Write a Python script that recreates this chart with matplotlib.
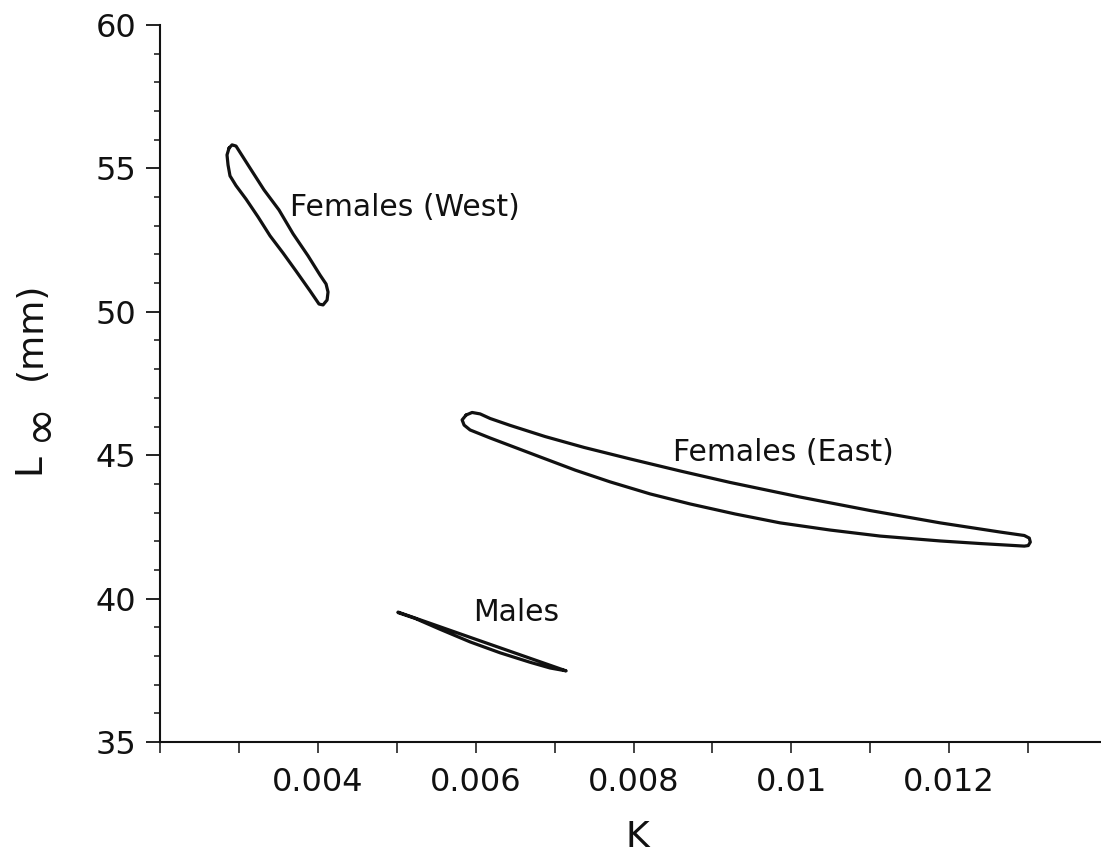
import matplotlib
matplotlib.use("Agg")
import matplotlib.pyplot as plt
from matplotlib.ticker import FixedLocator, NullFormatter

# ---- data (outlines of the confidence regions, K vs L-infinity) ----
west_k = [0.002875, 0.002913, 0.002963, 0.003141, 0.003318, 0.003508, 0.003686,
          0.003876, 0.004028, 0.004104, 0.004129, 0.004117, 0.004066, 0.004015,
          0.003901, 0.003724, 0.003559, 0.003394, 0.003242, 0.003090, 0.002963,
          0.002887, 0.002862, 0.002849, 0.002875]
west_l = [55.71, 55.82, 55.78, 55.01, 54.25, 53.55, 52.72,
          51.95, 51.28, 50.97, 50.69, 50.41, 50.24, 50.27,
          50.73, 51.42, 52.05, 52.65, 53.31, 53.93, 54.40,
          54.74, 55.12, 55.47, 55.71]

east_k = [0.005878, 0.005954, 0.006056, 0.006183, 0.006436, 0.006880, 0.007374,
          0.007957, 0.008591, 0.009224, 0.010112, 0.010999, 0.011886, 0.012646,
          0.012951, 0.013014, 0.013027, 0.013001, 0.012951,
          0.012393, 0.011886, 0.011125, 0.010492, 0.009858, 0.009288, 0.008717,
          0.008210, 0.007703, 0.007260, 0.006816, 0.006183, 0.005929,
          0.005853, 0.005828, 0.005878]
east_l = [46.40, 46.49, 46.44, 46.28, 46.04, 45.65, 45.27,
          44.87, 44.45, 44.05, 43.54, 43.07, 42.64, 42.32,
          42.20, 42.11, 41.97, 41.85, 41.83,
          41.92, 42.01, 42.18, 42.39, 42.64, 42.95, 43.30,
          43.65, 44.07, 44.48, 44.94, 45.60, 45.88,
          46.05, 46.23, 46.40]

male_k = [0.005017, 0.005929, 0.007146,
          0.006943, 0.006689, 0.006309, 0.005929, 0.005549, 0.005232, 0.005017]
male_l = [39.53, 38.65, 37.48,
          37.58, 37.78, 38.11, 38.49, 38.93, 39.31, 39.51]

labels = ["Females (West)", "Females (East)", "Males"]
label_k = [0.003648, 0.008502, 0.005967]
label_l = [53.65, 45.11, 39.50]

xmajor = [0.004, 0.006, 0.008, 0.010, 0.012]
xmajor_labels = ["0.004", "0.006", "0.008", "0.01", "0.012"]
xminor = [0.002, 0.003, 0.005, 0.007, 0.009, 0.011, 0.013]
ymajor = [35, 40, 45, 50, 55, 60]
yminor = [36, 37, 38, 39, 41, 42, 43, 44, 46, 47, 48, 49, 51, 52, 53, 54, 56, 57, 58, 59]

plt.rcParams['font.family'] = ['DejaVu Sans']

fig = plt.figure(figsize=(11.01, 8.57), dpi=100)
ax = fig.add_axes([160 / 1101, 1 - 742 / 857, (1100 - 160) / 1101, (742 - 25) / 857])

lw = 2.3
for ks, ls in [(west_k, west_l), (east_k, east_l), (male_k, male_l)]:
    ax.plot(ks, ls, color='#111111', lw=lw, solid_joinstyle='round', solid_capstyle='round')

for t, k, l in zip(labels, label_k, label_l):
    ax.text(k, l, t, fontsize=21.5, ha='left', va='center', color='#111111')

ax.set_xlim(0.002, 0.01391)
ax.set_ylim(35, 60)

for s in ['top', 'right']:
    ax.spines[s].set_visible(False)
for s in ['left', 'bottom']:
    ax.spines[s].set_linewidth(1.5)
    ax.spines[s].set_color('#111111')

ax.xaxis.set_major_locator(FixedLocator(xmajor))
ax.set_xticklabels(xmajor_labels)
ax.xaxis.set_minor_locator(FixedLocator(xminor))
ax.yaxis.set_major_locator(FixedLocator(ymajor))
ax.yaxis.set_minor_locator(FixedLocator(yminor))
ax.yaxis.set_minor_formatter(NullFormatter())
ax.xaxis.set_minor_formatter(NullFormatter())

ax.tick_params(axis='x', which='both', direction='out', length=8, width=1.1,
               labelsize=23, pad=10, colors='#111111')
ax.tick_params(axis='y', which='major', direction='out', length=10, width=1.3,
               labelsize=23, pad=7, colors='#111111')
ax.tick_params(axis='y', which='minor', direction='out', length=4.5, width=1.1, colors='#111111')

# y-axis label: L with a large subscript infinity, then (mm)
fig.text(29 / 1101, 1 - 464 / 857, "L", rotation=90, fontsize=27, ha='center', va='center',
         color='#111111')
fig.text(39 / 1101, 1 - 421 / 857, "\u221e", rotation=90, fontsize=34, ha='center', va='center',
         color='#111111')
fig.text(31 / 1101, 1 - 331 / 857, "(mm)", rotation=90, fontsize=26, ha='center', va='center',
         color='#111111')
fig.text(637 / 1101, 1 - 847 / 857, "K", fontsize=26, ha='center', va='baseline', color='#111111')

fig.savefig("out.png", dpi=100)
